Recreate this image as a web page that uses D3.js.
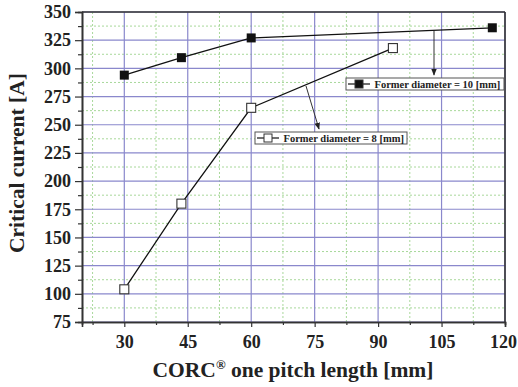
<!DOCTYPE html>
<html>
<head>
<meta charset="utf-8">
<script src="https://cdn.jsdelivr.net/npm/d3@7"></script>
<style>
  body { margin: 0; background: #fff; }
  text { font-family: "Liberation Serif", "Times New Roman", serif; font-weight: bold; fill: #222; }
</style>
</head>
<body>
<script>
// data
var pitch10 = [30, 43.5, 60, 117];
var ic10 = [294, 309.5, 327, 336];
var pitch8 = [30, 43.5, 60, 93.5];
var ic8 = [104, 180, 265, 318];
var xTicks = [30, 45, 60, 75, 90, 105, 120];
var yTicks = [75, 100, 125, 150, 175, 200, 225, 250, 275, 300, 325, 350];

var W = 518, H = 387;
var margin = { top: 12, right: 13, bottom: 65, left: 82 };
var width = W - margin.left - margin.right,
    height = H - margin.top - margin.bottom;

var svg = d3.select('body').append('svg')
    .attr('width', W).attr('height', H);

var x = d3.scaleLinear().domain([20, 120]).range([0, width]);
var y = d3.scaleLinear().domain([75, 350]).range([height, 0]);

var g = svg.append('g')
    .attr('transform', 'translate(' + margin.left + ',' + margin.top + ')');

// minor grid (green dotted)
var xMinor = d3.range(22.5, 120, 15);
var yMinor = d3.range(87.5, 350, 25);
g.append('g').selectAll('line').data(xMinor).enter().append('line')
    .attr('x1', d => x(d)).attr('x2', d => x(d))
    .attr('y1', 0).attr('y2', height)
    .attr('stroke', '#a8d89a').attr('stroke-width', 1).attr('stroke-dasharray', '2,2');
g.append('g').selectAll('line').data(yMinor).enter().append('line')
    .attr('y1', d => y(d)).attr('y2', d => y(d))
    .attr('x1', 0).attr('x2', width)
    .attr('stroke', '#a8d89a').attr('stroke-width', 1).attr('stroke-dasharray', '2,2');

// major grid
g.append('g').selectAll('line').data(xTicks).enter().append('line')
    .attr('x1', d => x(d)).attr('x2', d => x(d))
    .attr('y1', 0).attr('y2', height)
    .attr('stroke', '#8a88cc').attr('stroke-width', 1.2);
g.append('g').selectAll('line').data(yTicks).enter().append('line')
    .attr('y1', d => y(d)).attr('y2', d => y(d))
    .attr('x1', 0).attr('x2', width)
    .attr('stroke', '#8a88cc').attr('stroke-width', 1.2);

// axes
var xAxis = g.append('g').attr('transform', 'translate(0,' + height + ')')
    .call(d3.axisBottom(x).tickValues(xTicks).tickSize(5).tickPadding(8));
g.append('g').attr('transform', 'translate(0,' + height + ')')
    .call(d3.axisBottom(x).tickValues(xMinor).tickSize(3).tickFormat(''));
var yAxis = g.append('g')
    .call(d3.axisLeft(y).tickValues(yTicks).tickSize(7).tickPadding(4));
g.append('g')
    .call(d3.axisLeft(y).tickValues(yMinor).tickSize(4).tickFormat(''));

g.selectAll('.domain').attr('stroke', '#333').attr('stroke-width', 1.6);
g.selectAll('.tick line').attr('stroke', '#333').attr('stroke-width', 1.2);
g.selectAll('.tick text')
    .style('font-family', '"Liberation Serif", serif')
    .style('font-weight', 'bold').style('font-size', '18px').attr('fill', '#222');
xAxis.selectAll('.tick text').filter(d => d === 120).attr('x', -2);
yAxis.selectAll('.tick text').attr('x', -11);

// frame top/right
g.append('line').attr('x1', 0).attr('x2', width).attr('y1', 0).attr('y2', 0)
    .attr('stroke', '#333').attr('stroke-width', 1.6);
g.append('line').attr('x1', width).attr('x2', width).attr('y1', 0).attr('y2', height)
    .attr('stroke', '#333').attr('stroke-width', 1.6);

// series
var line = d3.line().x(d => x(d[0])).y(d => y(d[1]));
var s10 = pitch10.map((p, i) => [p, ic10[i]]);
var s8 = pitch8.map((p, i) => [p, ic8[i]]);

g.append('path').datum(s10).attr('d', line)
    .attr('fill', 'none').attr('stroke', '#111').attr('stroke-width', 1.3);
g.append('path').datum(s8).attr('d', line)
    .attr('fill', 'none').attr('stroke', '#111').attr('stroke-width', 1.3);

var sq = 9;
g.selectAll('.m10').data(s10).enter().append('rect')
    .attr('x', d => x(d[0]) - sq / 2).attr('y', d => y(d[1]) - sq / 2)
    .attr('width', sq).attr('height', sq).attr('fill', '#111');
g.selectAll('.m8').data(s8).enter().append('rect')
    .attr('x', d => x(d[0]) - sq / 2).attr('y', d => y(d[1]) - sq / 2)
    .attr('width', sq).attr('height', sq)
    .attr('fill', '#fff').attr('stroke', '#333').attr('stroke-width', 1.1);

// arrows + legend boxes
svg.append('defs').append('marker')
    .attr('id', 'arr').attr('viewBox', '0 0 10 10').attr('refX', 9).attr('refY', 5)
    .attr('markerWidth', 7).attr('markerHeight', 7).attr('orient', 'auto')
    .append('path').attr('d', 'M0,1 L10,5 L0,9 Z').attr('fill', '#222');

function legend(bx, by, bw, label, filled, ax, ay) {
    // arrow from curve to box
    svg.append('line')
        .attr('x1', ax[0]).attr('y1', ax[1]).attr('x2', ay[0]).attr('y2', ay[1])
        .attr('stroke', '#333').attr('stroke-width', 1).attr('marker-end', 'url(#arr)');
    var lg = svg.append('g').attr('transform', 'translate(' + bx + ',' + by + ')');
    lg.append('rect').attr('width', bw).attr('height', 12)
        .attr('fill', '#fff').attr('stroke', '#555').attr('stroke-width', 1);
    lg.append('line').attr('x1', 2).attr('x2', 24).attr('y1', 6).attr('y2', 6)
        .attr('stroke', '#222').attr('stroke-width', 1.3);
    lg.append('rect').attr('x', 9).attr('y', 2).attr('width', 8).attr('height', 8)
        .attr('fill', filled ? '#111' : '#fff').attr('stroke', '#333');
    lg.append('text').attr('x', 28.5).attr('y', 10)
        .style('font-size', '10.5px').text(label);
}
legend(346, 78, 158, 'Former diameter = 10 [mm]', true, [434, 31], [434, 75]);
legend(255, 132, 152, 'Former diameter = 8 [mm]', false, [306, 86], [319, 129]);

// axis titles
svg.append('text')
    .attr('x', 293).attr('y', 377)
    .attr('text-anchor', 'middle').style('font-size', '21.5px')
    .html('CORC<tspan dy="-8" font-size="13px">®</tspan><tspan dy="8"> one pitch length [mm]</tspan>');
svg.append('text')
    .attr('transform', 'translate(24,163) rotate(-90)')
    .attr('text-anchor', 'middle').style('font-size', '21.5px')
    .text('Critical current [A]');
</script>
</body>
</html>
